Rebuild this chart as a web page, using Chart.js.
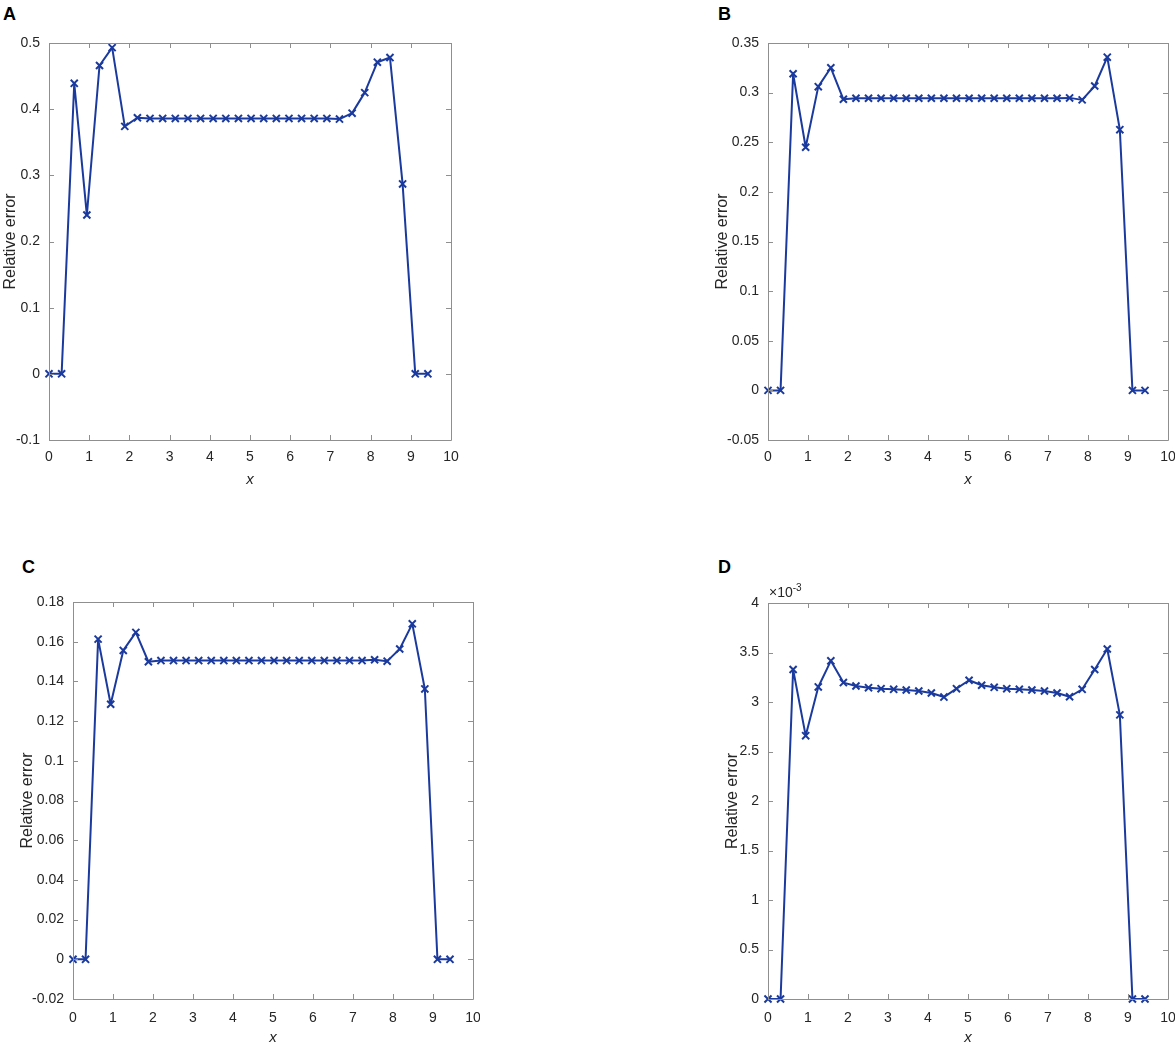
<!DOCTYPE html>
<html>
<head>
<meta charset="utf-8">
<script src="https://cdn.jsdelivr.net/npm/chart.js@4.4.1/dist/chart.umd.min.js"></script>
<style>
  html, body { margin: 0; padding: 0; background: #ffffff; }
  body { width: 1175px; height: 1043px; position: relative; overflow: hidden; font-family: 'Liberation Sans', Arial, sans-serif; }
  canvas { position: absolute; }
  .plabel { position: absolute; font-weight: bold; font-size: 18px; color: #000; font-family: 'Liberation Sans', Arial, sans-serif; line-height: 1; }
</style>
</head>
<body>
<div class="plabel" style="left:3px;top:5px;">A</div>
<div class="plabel" style="left:718px;top:5px;">B</div>
<div class="plabel" style="left:22px;top:558px;">C</div>
<div class="plabel" style="left:718px;top:558px;">D</div>
<canvas id="cA" width="480" height="500" style="left:0px;top:0px;"></canvas>
<canvas id="cB" width="475" height="500" style="left:700px;top:0px;"></canvas>
<canvas id="cC" width="480" height="503" style="left:0px;top:540px;"></canvas>
<canvas id="cD" width="475" height="503" style="left:700px;top:540px;"></canvas>
<script>
// ---- data ----
const xValues = [0, 0.314, 0.628, 0.942, 1.257, 1.571, 1.885, 2.199, 2.513, 2.827, 3.142,
  3.456, 3.770, 4.084, 4.398, 4.712, 5.027, 5.341, 5.655, 5.969, 6.283,
  6.597, 6.912, 7.226, 7.540, 7.854, 8.168, 8.482, 8.796, 9.111, 9.425];

const errorA = [0, 0, 0.439, 0.240, 0.466, 0.493, 0.374, 0.387, 0.386, 0.386, 0.386,
  0.386, 0.386, 0.386, 0.386, 0.386, 0.386, 0.386, 0.386, 0.386, 0.386,
  0.386, 0.386, 0.385, 0.394, 0.425, 0.471, 0.478, 0.287, 0, 0];

const errorB = [0, 0, 0.319, 0.245, 0.306, 0.325, 0.2933, 0.2943, 0.2943, 0.2943, 0.2943,
  0.2943, 0.2943, 0.2943, 0.2943, 0.2943, 0.2943, 0.2943, 0.2943, 0.2943, 0.2943,
  0.2943, 0.2943, 0.2943, 0.2947, 0.2927, 0.3067, 0.3357, 0.2627, 0, 0];

const errorC = [0, 0, 0.1613, 0.1285, 0.1556, 0.1647, 0.1499, 0.1505, 0.1505, 0.1505, 0.1505,
  0.1505, 0.1505, 0.1505, 0.1505, 0.1505, 0.1505, 0.1505, 0.1505, 0.1505, 0.1505,
  0.1505, 0.1505, 0.1505, 0.1509, 0.1502, 0.1563, 0.169, 0.1362, 0, 0];

// panel D values in units of 10^-3
const errorD_e3 = [0, 0, 3.328, 2.660, 3.152, 3.416, 3.196, 3.162, 3.145, 3.135, 3.128,
  3.121, 3.111, 3.091, 3.050, 3.135, 3.220, 3.169, 3.148, 3.135, 3.128,
  3.121, 3.111, 3.091, 3.053, 3.128, 3.328, 3.535, 2.870, 0, 0];

const xTicks = { min: 0, max: 10, step: 1 };
const yTicksA = { min: -0.1, max: 0.5, step: 0.1 };
const yTicksB = { min: -0.05, max: 0.35, step: 0.05 };
const yTicksC = { min: -0.02, max: 0.18, step: 0.02 };
const yTicksD = { min: 0, max: 4, step: 0.5 };

const yTitle = 'Relative error';
const xTitle = 'x';
const exponentLabel = '\u00d710';
const exponentPower = '-3';

// ---- styles ----
const LINE = '#1b3a9e';
const AXIS = '#8f8f8f';
const TEXT = '#262626';
const FONT = "'Liberation Sans', Arial, sans-serif";

const boxPlugin = {
  id: 'boxTicks',
  afterDraw(chart) {
    const ctx = chart.ctx;
    const a = chart.chartArea;
    const xs = chart.scales.x, ys = chart.scales.y;
    const L = 5;
    ctx.save();
    ctx.strokeStyle = AXIS;
    ctx.lineWidth = 1;
    ctx.beginPath();
    ctx.rect(Math.round(a.left) + 0.5, Math.round(a.top) + 0.5, Math.round(a.right - a.left), Math.round(a.bottom - a.top));
    ctx.stroke();
    ctx.beginPath();
    xs.ticks.forEach(t => {
      const px = Math.round(xs.getPixelForValue(t.value)) + 0.5;
      ctx.moveTo(px, a.bottom); ctx.lineTo(px, a.bottom - L);
      ctx.moveTo(px, a.top); ctx.lineTo(px, a.top + L);
    });
    ys.ticks.forEach(t => {
      const py = Math.round(ys.getPixelForValue(t.value)) + 0.5;
      ctx.moveTo(a.left, py); ctx.lineTo(a.left + L, py);
      ctx.moveTo(a.right, py); ctx.lineTo(a.right - L, py);
    });
    ctx.stroke();
    const ex = chart.options.plugins.boxTicks && chart.options.plugins.boxTicks.exponent;
    if (ex) {
      ctx.fillStyle = TEXT;
      ctx.textBaseline = 'alphabetic';
      ctx.textAlign = 'left';
      ctx.font = '14px ' + FONT;
      const x0 = a.left + 1, y0 = a.top - 6;
      ctx.fillText(exponentLabel, x0, y0);
      const w = ctx.measureText(exponentLabel).width;
      ctx.font = '10px ' + FONT;
      ctx.fillText(exponentPower, x0 + w, y0 - 6);
    }
    ctx.restore();
  }
};

function fmt(v, scale) {
  const n = Number((v * scale).toFixed(4));
  return String(n);
}

function makeChart(id, values, yt, geom, opts) {
  const scale = (opts && opts.scale) || 1;
  const data = xValues.map((x, i) => ({ x: x, y: values[i] }));
  return new Chart(document.getElementById(id), {
    type: 'line',
    data: {
      datasets: [{
        data: data,
        borderColor: LINE,
        backgroundColor: LINE,
        borderWidth: 2,
        borderJoinStyle: 'round',
        pointStyle: 'crossRot',
        pointRadius: 5,
        pointBorderWidth: 2,
        pointBorderColor: LINE,
        pointHoverRadius: 5,
        tension: 0,
        fill: false,
        clip: false
      }]
    },
    options: {
      responsive: false,
      animation: false,
      devicePixelRatio: 1,
      layout: { padding: { left: 0, top: geom.top, right: geom.right, bottom: 0 } },
      plugins: {
        legend: { display: false },
        tooltip: { enabled: false },
        boxTicks: { exponent: !!(opts && opts.exponent) }
      },
      scales: {
        x: {
          type: 'linear',
          min: xTicks.min, max: xTicks.max,
          grid: { display: false, drawTicks: false },
          border: { display: false },
          ticks: { stepSize: xTicks.step, color: TEXT, font: { family: FONT, size: 14 }, padding: geom.xTickPad, maxRotation: 0,
                   callback: v => fmt(v, 1) },
          title: { display: true, text: xTitle, color: TEXT, font: { family: FONT, size: 15, style: 'italic' },
                   padding: { top: 0, bottom: geom.xTitlePad } },
          afterFit: s => { s.height = geom.xHeight; s.paddingLeft = 0; s.paddingRight = 0; }
        },
        y: {
          type: 'linear',
          min: yt.min / scale, max: yt.max / scale,
          grid: { display: false, drawTicks: false },
          border: { display: false },
          ticks: { stepSize: yt.step / scale, color: TEXT, font: { family: FONT, size: 14 }, padding: 9,
                   callback: v => fmt(v, scale) },
          title: { display: true, text: yTitle, color: TEXT, font: { family: FONT, size: 16 },
                   padding: { top: geom.yTitlePad, bottom: 0 } },
          afterFit: s => { s.width = geom.yWidth; s.paddingTop = 0; s.paddingBottom = 0; }
        }
      }
    },
    plugins: [boxPlugin]
  });
}

makeChart('cA', errorA, yTicksA, { top: 43, right: 29, yWidth: 49, xHeight: 60, xTitlePad: 11, xTickPad: 9, yTitlePad: 1 });
makeChart('cB', errorB, yTicksB, { top: 43, right: 6, yWidth: 68, xHeight: 60, xTitlePad: 11, xTickPad: 9, yTitlePad: 13 });
makeChart('cC', errorC, yTicksC, { top: 62, right: 6, yWidth: 73, xHeight: 44, xTitlePad: -4, xTickPad: 11, yTitlePad: 18 });
const errorD = errorD_e3.map(v => v / 1000);
makeChart('cD', errorD, yTicksD, { top: 63, right: 6, yWidth: 68, xHeight: 44, xTitlePad: -4, xTickPad: 11, yTitlePad: 23 },
          { scale: 1000, exponent: true });
</script>
</body>
</html>
